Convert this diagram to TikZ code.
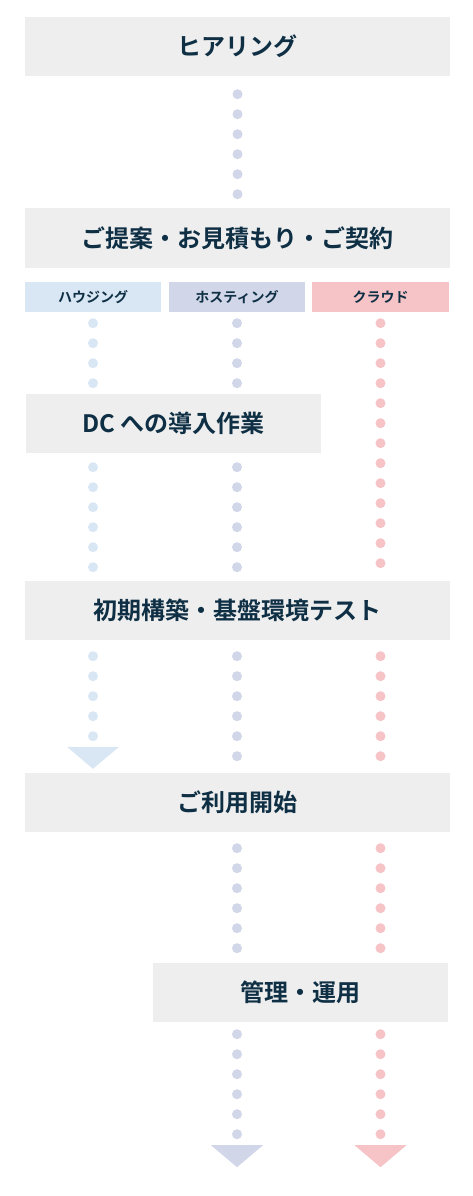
\documentclass[tikz,border=0pt]{standalone}
\usepackage{fontspec}
\setmainfont{Noto Sans CJK JP}[BoldFont={* Bold}]
\usetikzlibrary{calc}
\definecolor{cbox}{HTML}{EEEEEE}
\definecolor{cnavy}{HTML}{0E2F44}
\definecolor{chouse}{HTML}{D9E6F3}
\definecolor{chost}{HTML}{D1D6E8}
\definecolor{ccloud}{HTML}{F6C3C7}
\tikzset{
  stage/.style={fill=cbox, text=cnavy, font=\bfseries\fontsize{24}{28}\selectfont, minimum width=425pt, minimum height=59pt, inner sep=0pt},
  tag/.style={fill=#1, text=cnavy, font=\bfseries\fontsize{14}{16}\selectfont, minimum width=136pt, minimum height=30pt, inner sep=0pt},
  dotline/.style={draw=#1, line width=10pt, line cap=round, dash pattern=on 0pt off 20pt},
  headfill/.style={fill=#1},
}

\begin{document}
\begin{tikzpicture}[x=1pt, y=-1pt]
  \useasboundingbox (0,0) rectangle (473,1196);
  \node[stage] (hear) at (237.5,46.5) {ヒアリング};
  \node[stage, minimum height=60pt] (prop) at (237.5,238) {ご提案・お見積もり・ご契約};
  \draw[dotline=chost] ($(hear.south)+(0,18)$) -- ($(prop.north)+(0,-10)$);
  % service tags
  \node[tag=chouse] (tagH) at (93,297) {ハウジング};
  \node[tag=chost] (tagS) at (237,297) {ホスティング};
  \node[tag=ccloud, minimum width=137pt] (tagC) at (380.5,297) {クラウド};
  \node[stage, minimum width=295pt] (dc) at (173.5,423.5) {DC への導入作業};
  \node[stage] (init) at (237.5,610.5) {初期構築・基盤環境テスト};
  \node[stage] (start) at (237.5,802.5) {ご利用開始};
  \node[stage, minimum width=295pt] (ops) at (300.5,992.5) {管理・運用};
  % housing
  \draw[dotline=chouse] ($(tagH.south)+(0,11)$) -- ($(dc.north -| tagH.south)+(0,-7)$);
  \draw[dotline=chouse] ($(dc.south -| tagH.south)+(0,14)$) -- ($(init.north -| tagH.south)+(0,-10)$);
  \coordinate (hTip) at ($(start.north -| tagH.south)+(0,-4)$);
  \draw[dotline=chouse] ($(init.south -| tagH.south)+(0,16)$) -- ($(hTip)+(0,-29)$);
  \fill[headfill=chouse] ($(hTip)+(-26,-22)$) -- ($(hTip)+(26,-22)$) -- (hTip) -- cycle;
  % hosting
  \draw[dotline=chost] ($(tagS.south)+(0,11)$) -- ($(dc.north -| tagS.south)+(0,-7)$);
  \draw[dotline=chost] ($(dc.south -| tagS.south)+(0,14)$) -- ($(init.north -| tagS.south)+(0,-10)$);
  \draw[dotline=chost] ($(init.south -| tagS.south)+(0,16)$) -- ($(start.north -| tagS.south)+(0,-13)$);
  \draw[dotline=chost] ($(start.south -| tagS.south)+(0,16)$) -- ($(ops.north -| tagS.south)+(0,-11)$);
  \coordinate (sTip) at ($(ops.south -| tagS.south)+(0,145)$);
  \draw[dotline=chost] ($(ops.south -| tagS.south)+(0,12)$) -- ($(sTip)+(0,-29)$);
  \fill[headfill=chost] ($(sTip)+(-26,-22)$) -- ($(sTip)+(26,-22)$) -- (sTip) -- cycle;
  % cloud
  \draw[dotline=ccloud] ($(tagC.south)+(0,11)$) -- ($(init.north -| tagC.south)+(0,-14)$);
  \draw[dotline=ccloud] ($(init.south -| tagC.south)+(0,16)$) -- ($(start.north -| tagC.south)+(0,-13)$);
  \draw[dotline=ccloud] ($(start.south -| tagC.south)+(0,16)$) -- ($(ops.north -| tagC.south)+(0,-11)$);
  \coordinate (cTip) at ($(ops.south -| tagC.south)+(0,145)$);
  \draw[dotline=ccloud] ($(ops.south -| tagC.south)+(0,12)$) -- ($(cTip)+(0,-29)$);
  \fill[headfill=ccloud] ($(cTip)+(-26,-22)$) -- ($(cTip)+(26,-22)$) -- (cTip) -- cycle;
\end{tikzpicture}
\end{document}
